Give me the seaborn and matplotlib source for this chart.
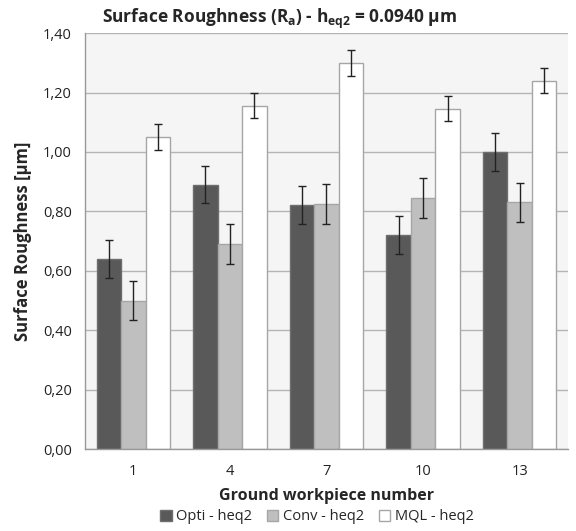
import pandas as pd
import matplotlib.pyplot as plt
import seaborn as sns
from matplotlib.patches import Patch

# Data
workpieces = ["1", "4", "7", "10", "13"]
opti = [0.64, 0.89, 0.82, 0.72, 1.00]
conv = [0.50, 0.69, 0.825, 0.845, 0.83]
mql = [1.05, 1.155, 1.30, 1.145, 1.24]
opti_err = [0.063, 0.063, 0.064, 0.063, 0.063]
conv_err = [0.066, 0.066, 0.066, 0.067, 0.066]
mql_err = [0.043, 0.042, 0.043, 0.042, 0.043]
series = ["Opti - heq2", "Conv - heq2", "MQL - heq2"]
y_ticks = [0.0, 0.2, 0.4, 0.6, 0.8, 1.0, 1.2, 1.4]

df = pd.DataFrame({
    "workpiece": workpieces * 3,
    "series": [s for s in series for _ in workpieces],
    "ra": opti + conv + mql,
})
errors = [opti_err, conv_err, mql_err]
colors = ["#595959", "#bfbfbf", "#ffffff"]
edges = ["#6e6e6e", "#a6a6a6", "#a6a6a6"]

sns.set_style("white")
plt.rcParams["font.family"] = ["Open Sans", "DejaVu Sans"]
plt.rcParams["mathtext.fontset"] = "custom"
plt.rcParams["mathtext.bf"] = "Open Sans:bold"
plt.rcParams["mathtext.rm"] = "Open Sans"

fig = plt.figure(figsize=(5.76, 5.31), dpi=100)
ax = fig.add_axes([0.1476, 0.1544, 0.8384, 0.7831])
ax.set_facecolor("#f5f5f5")

sns.barplot(data=df, x="workpiece", y="ra", hue="series", order=workpieces,
            hue_order=series, palette=colors, width=0.76, gap=0,
            errorbar=None, legend=False, ax=ax, zorder=2)

for cont, err, ec in zip(ax.containers, errors, edges):
    xs = []
    ys = []
    for bar in cont:
        bar.set_edgecolor(ec)
        bar.set_linewidth(1.0)
        xs.append(bar.get_x() + bar.get_width() / 2)
        ys.append(bar.get_height())
    ax.errorbar(xs, ys, yerr=err, fmt="none", ecolor="#222222",
                elinewidth=1.0, capsize=3, capthick=1.0, zorder=3)

ax.set_ylim(0, 1.4)
ax.set_xlim(-0.5, len(workpieces) - 0.5)
ax.set_yticks(y_ticks)
ax.set_yticklabels([f"{v:.2f}".replace(".", ",") for v in y_ticks])
ax.yaxis.grid(True, color="#b5b5b5", linewidth=1.0, zorder=0)
ax.set_axisbelow(True)

ax.set_xticks(range(len(workpieces)))
ax.set_xticks([i - 0.5 for i in range(len(workpieces) + 1)], minor=True)
ax.tick_params(axis="x", which="major", length=0, pad=11, labelsize=10.5, colors="#222222")
ax.tick_params(axis="x", which="minor", length=5, color="#999999", direction="out")
ax.tick_params(axis="y", length=6, color="#999999", labelsize=10.5, labelcolor="#222222", direction="out")

for s in ["top", "right"]:
    ax.spines[s].set_visible(False)
for s in ["left", "bottom"]:
    ax.spines[s].set_color("#999999")
    ax.spines[s].set_linewidth(1.0)

ax.set_title(r"Surface Roughness (R$_\mathbf{a}$) - h$_\mathbf{eq2}$ = 0.0940 µm",
             fontsize=12.5, fontweight="bold", pad=7, x=0.403)
ax.set_ylabel("Surface Roughness [µm]", fontsize=12, fontweight="bold", labelpad=8)
ax.set_xlabel("Ground workpiece number", fontsize=11.5, fontweight="bold", labelpad=6)

handles = [Patch(facecolor=c, edgecolor=e, label=s) for c, e, s in zip(colors, edges, series)]
fig.legend(handles=handles, loc="lower center", bbox_to_anchor=(0.55, -0.012), ncol=3,
           frameon=False, fontsize=10.5, handlelength=0.8, handleheight=0.8,
           handletextpad=0.3, columnspacing=1.0)

fig.savefig("out.png", dpi=100)
